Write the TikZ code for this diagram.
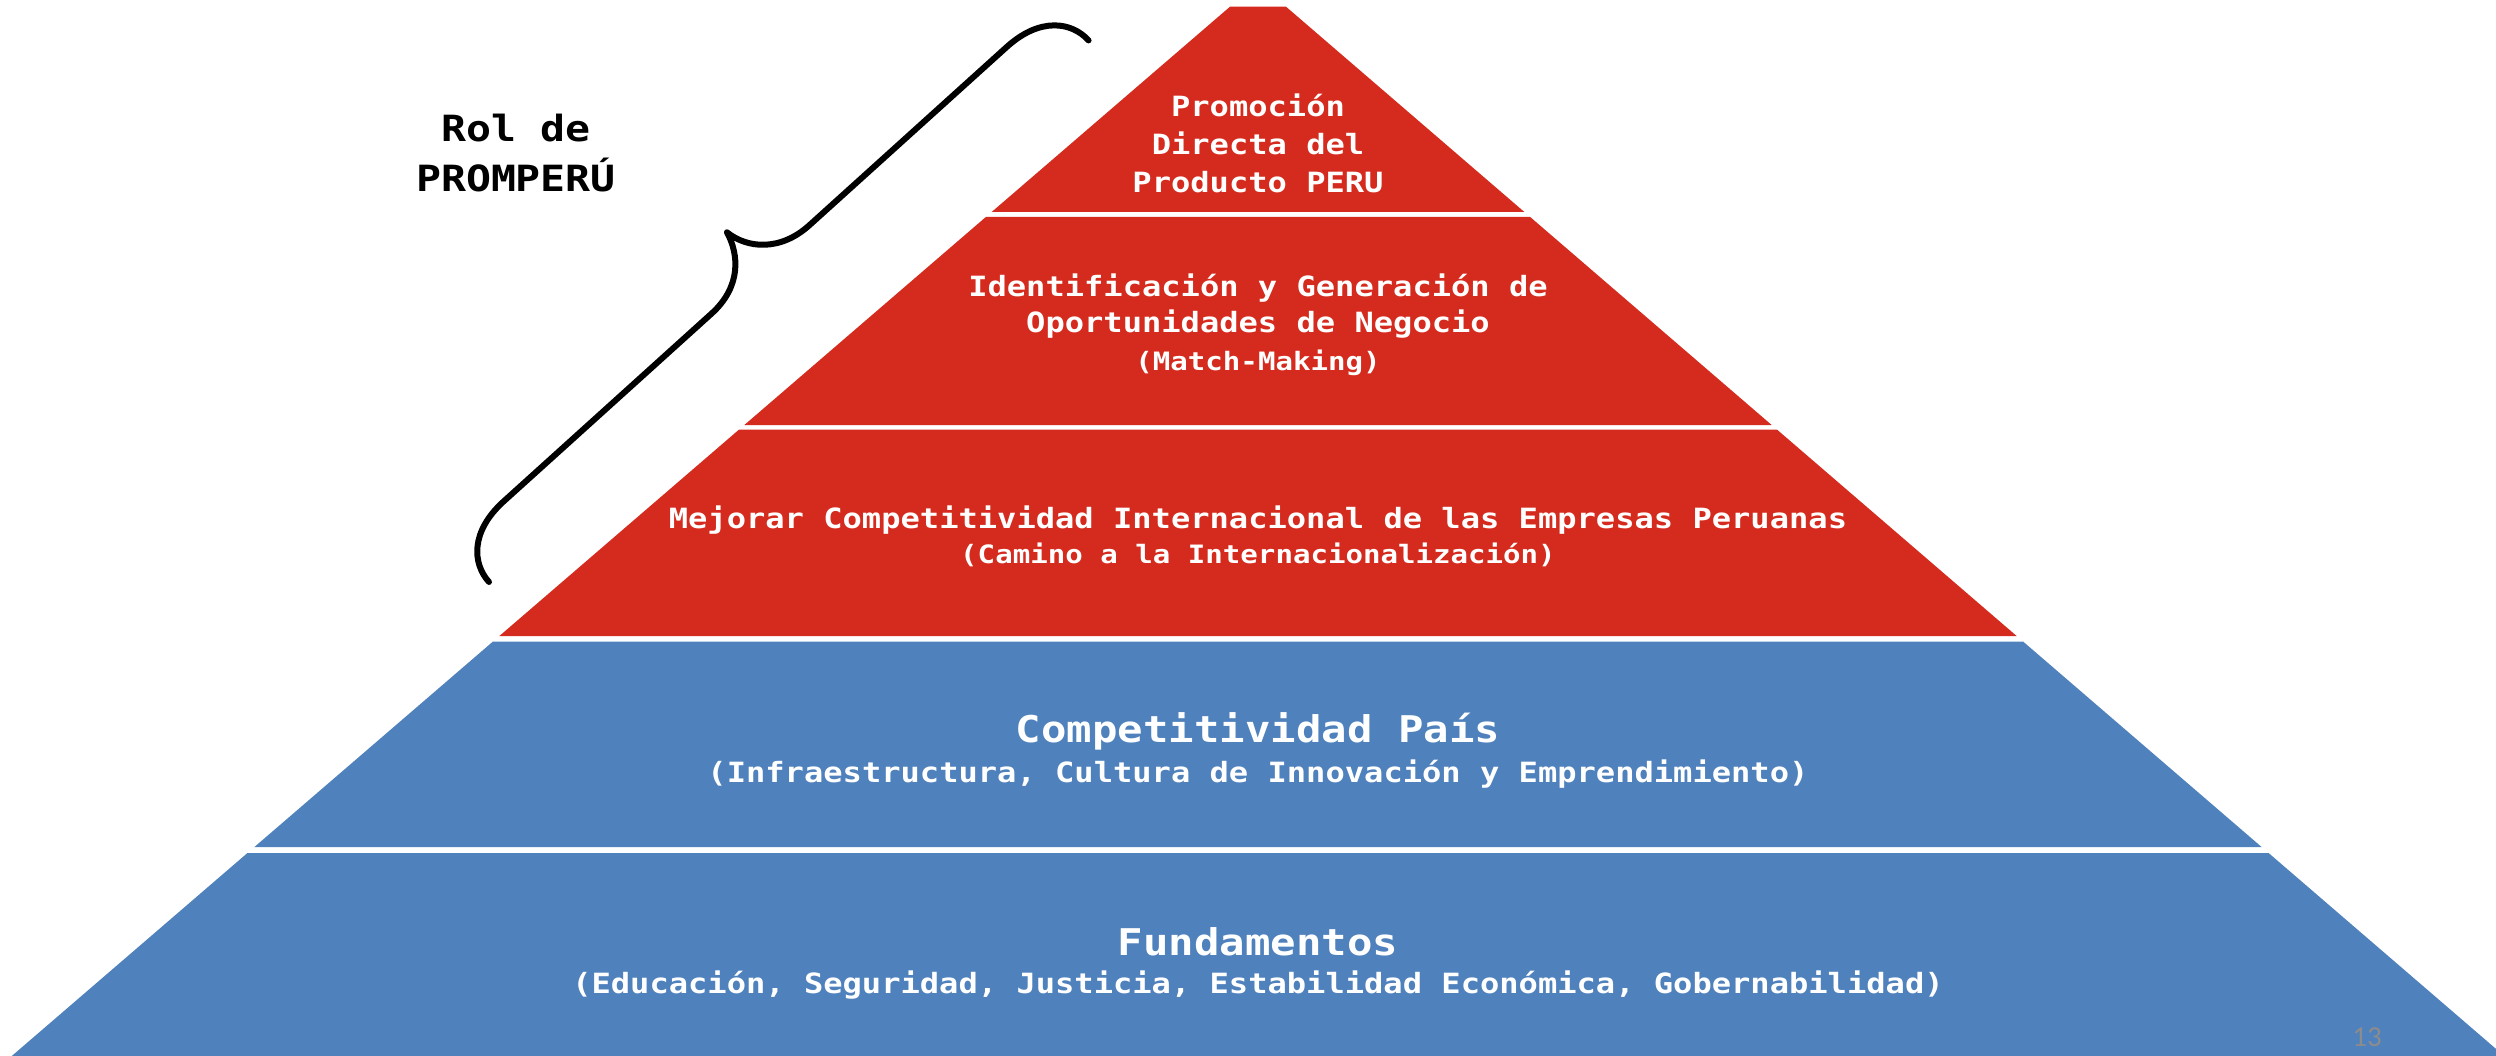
\documentclass[tikz,border=0pt]{standalone}
\usepackage{fontspec}
\newfontfamily\pyrfont[FakeStretch=1.15]{DejaVu Sans Mono}
\newfontfamily\numfont{Carlito}
\definecolor{pyrred}{RGB}{213,43,30}
\definecolor{pyrblue}{RGB}{79,129,189}
\definecolor{pagegray}{RGB}{140,140,140}
\newcommand\pyrlayer[3]{%
  \fill[#3] ({1258-hw(#1)},-#1) -- ({1258+hw(#1)},-#1) -- ({1258+hw(#2)},-#2) -- ({1258-hw(#2)},-#2) -- cycle;}
\tikzset{
  declare function={hw(\y)=28+1.161*(\y-6.7);},
  base/.style={anchor=base, inner sep=0pt, text=white},
  norm/.style={base, font=\pyrfont\bfseries\fontsize{27.9}{33}\selectfont},
  small/.style={base, font=\pyrfont\bfseries\fontsize{25.3}{30}\selectfont},
  big/.style={base, font=\pyrfont\bfseries\fontsize{36.8}{44}\selectfont},
  rolstyle/.style={anchor=base, inner sep=0pt, text=black, font=\pyrfont\bfseries\fontsize{36.1}{43}\selectfont},
  bracestyle/.style={line width=6pt, line cap=round, line join=round, black},
}
\begin{document}
\begin{tikzpicture}[x=1pt,y=1pt]
\useasboundingbox (0,0) rectangle (2496,-1056);
\begin{scope}
\clip (0,0) rectangle (2496,-1056);
\pyrlayer{6.7}{212}{pyrred}
\pyrlayer{217}{425}{pyrred}
\pyrlayer{429.5}{636}{pyrred}
\pyrlayer{641.5}{847}{pyrblue}
\pyrlayer{853}{1070}{pyrblue}
\end{scope}
% brace
\begin{scope}[shift={(489,-582)}, rotate=42.09]
\draw[bracestyle] (0,0) .. controls (0,25) and (20,50) .. (65,50) -- (345,50)
  .. controls (385,50) and (405,75) .. (411,100)
  .. controls (415,75) and (437,50) .. (477,50) -- (743,50)
  .. controls (788,50) and (808,25) .. (808,0);
\end{scope}
% labels
\node[rolstyle] (rol1) at (516,-142) {Rol de};
\node[rolstyle] (rol2) at (516,-192) {PROMPERÚ};
\node[norm] (p1a) at (1258,-117) {Promoción};
\node[norm] (p1b) at (1258,-155) {Directa del};
\node[norm] (p1c) at (1258,-193) {Producto PERU};
\node[norm] (p2a) at (1258,-297) {Identificación y Generación de};
\node[norm] (p2b) at (1258,-333) {Oportunidades de Negocio};
\node[small] (p2c) at (1258,-370) {(Match-Making)};
\node[norm] (p3a) at (1258,-528) {Mejorar Competitividad Internacional de las Empresas Peruanas};
\node[small] (p3b) at (1258,-563) {(Camino a la Internacionalización)};
\node[big] (p4a) at (1258,-742) {Competitividad País};
\node[norm] (p4b) at (1258,-782) {(Infraestructura, Cultura de Innovación y Emprendimiento)};
\node[big] (p5a) at (1258,-955) {Fundamentos};
\node[norm] (p5b) at (1258,-993) {(Educación, Seguridad, Justicia, Estabilidad Económica, Gobernabilidad)};
\node[anchor=base, inner sep=0pt, text=pagegray, font=\numfont\fontsize{29}{34}\selectfont] (pg) at (2367,-1046) {13};
\end{tikzpicture}
\end{document}
